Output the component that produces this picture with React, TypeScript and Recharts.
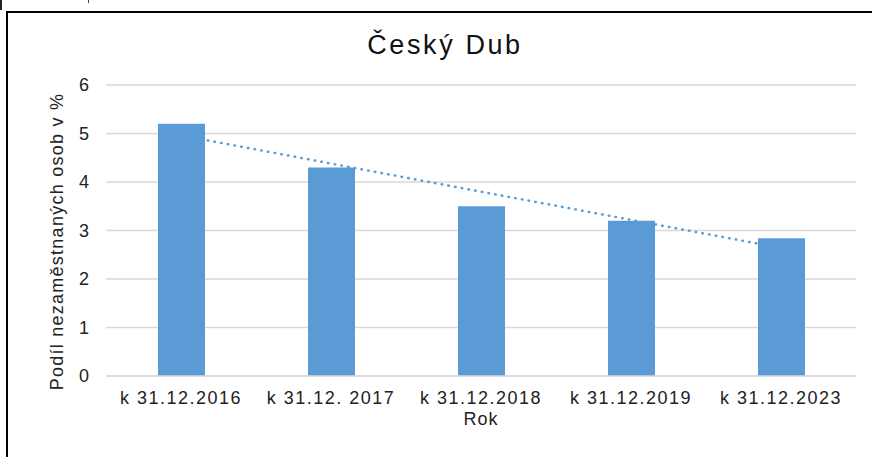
import React from "react";
import {
  ComposedChart,
  Bar,
  Line,
  XAxis,
  YAxis,
  CartesianGrid,
  Label,
} from "recharts";

const years = [
  "k 31.12.2016",
  "k 31.12. 2017",
  "k 31.12.2018",
  "k 31.12.2019",
  "k 31.12.2023",
];
const shares = [5.2, 4.3, 3.5, 3.2, 2.84];
// dotted trendline at its two ends
const trend = [4.96, null, null, null, 2.64];
const yTicks = [0, 1, 2, 3, 4, 5, 6];

const data = years.map((year, i) => ({
  year,
  share: shares[i],
  trend: trend[i],
}));

const FONT = "'Liberation Sans', Arial, sans-serif";
const BLUE = "#5B9BD5";

export default function App() {
  return (
    <div
      style={{
        position: "fixed",
        left: 0,
        top: 0,
        width: 872,
        height: 457,
        background: "#fff",
        overflow: "hidden",
        fontFamily: FONT,
      }}
    >
      <div style={{ position: "absolute", left: 0, top: 0, width: 2, height: 10, background: "#222" }} />
      <div style={{ position: "absolute", left: 88, top: 0, width: 1, height: 3, background: "#444" }} />
      <div
        style={{
          position: "absolute",
          left: 6,
          top: 11,
          width: 880,
          height: 460,
          borderLeft: "2px solid #000",
          borderTop: "2px solid #000",
        }}
      />
      <div
        style={{
          position: "absolute",
          left: 0,
          top: 30,
          width: 890,
          textAlign: "center",
          fontSize: 27,
          letterSpacing: 2.6,
          color: "#111",
        }}
      >
        Český Dub
      </div>
      <div style={{ position: "absolute", left: 0, top: 0 }}>
        <ComposedChart
          width={872}
          height={457}
          data={data}
          margin={{ top: 85, right: 16, bottom: 0, left: 0 }}
        >
          <CartesianGrid vertical={false} stroke="#D9D9D9" strokeWidth={1.5} />
          <XAxis
            dataKey="year"
            axisLine={{ stroke: "#D9D9D9", strokeWidth: 1.5 }}
            tickLine={false}
            tickSize={6}
            tickMargin={9}
            height={81}
            interval={0}
            tick={{ fontSize: 18, fill: "#222", fontFamily: FONT, letterSpacing: 1.5 }}
          >
            <Label
              content={() => (
                <text
                  x={481}
                  y={425}
                  textAnchor="middle"
                  fontSize={18}
                  fill="#222"
                  fontFamily={FONT}
                  letterSpacing={1}
                >
                  Rok
                </text>
              )}
            />
          </XAxis>
          <YAxis
            width={106}
            domain={[0, 6]}
            ticks={yTicks}
            axisLine={false}
            tickLine={false}
            tickSize={6}
            tickMargin={11}
            tick={{ fontSize: 18, fill: "#222", fontFamily: FONT }}
          >
            <Label
              content={() => (
                <text
                  x={63}
                  y={241.5}
                  transform="rotate(-90 63 241.5)"
                  textAnchor="middle"
                  fontSize={18}
                  fill="#222"
                  fontFamily={FONT}
                  letterSpacing={1.25}
                >
                  Podíl nezaměstnaných osob v %
                </text>
              )}
            />
          </YAxis>
          <Line
            dataKey="trend"
            connectNulls
            dot={false}
            stroke={BLUE}
            strokeWidth={2.5}
            strokeDasharray="0.5 6.3"
            strokeLinecap="round"
            isAnimationActive={false}
            zIndex={250}
          />
          <Bar
            dataKey="share"
            fill={BLUE}
            barSize={47}
            isAnimationActive={false}
          />
        </ComposedChart>
      </div>
    </div>
  );
}
